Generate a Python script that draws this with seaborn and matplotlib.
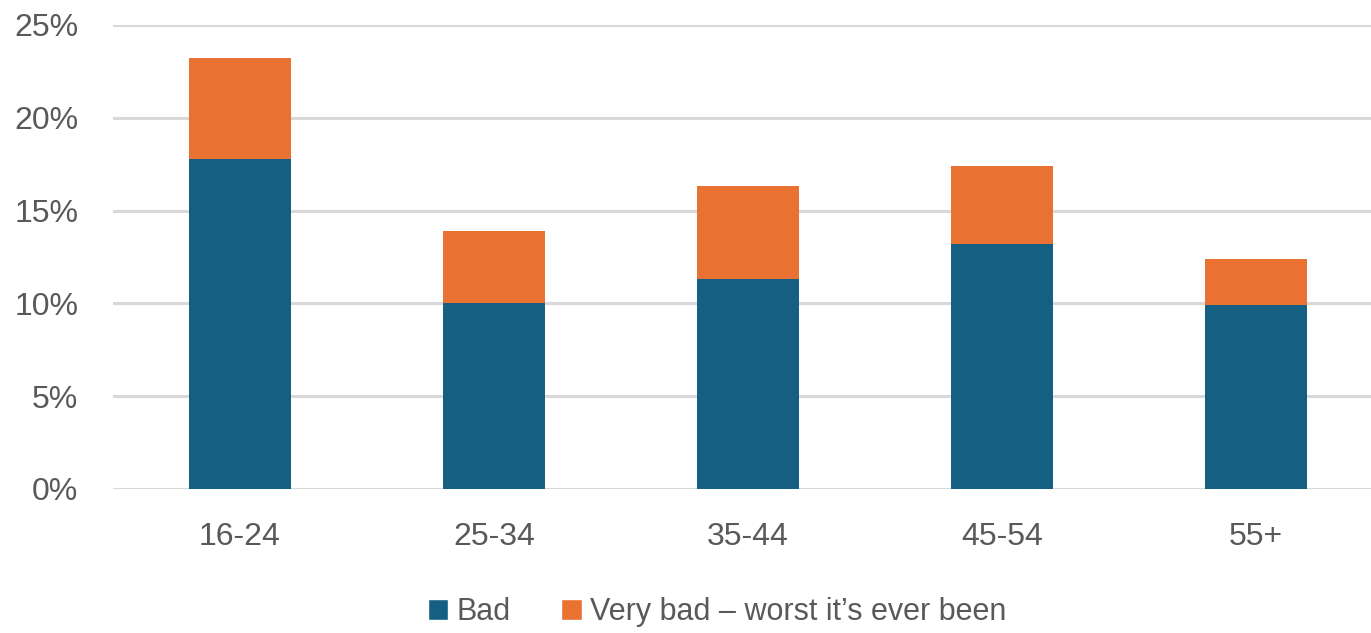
import matplotlib
matplotlib.use("Agg")
import matplotlib.pyplot as plt
import seaborn as sns
import pandas as pd
from matplotlib.patches import Patch
from matplotlib import font_manager as fm

categories = ["16-24", "25-34", "35-44", "45-54", "55+"]
bad = [17.8, 10.0, 11.3, 13.2, 9.9]
very_bad = [5.4, 3.9, 5.0, 4.2, 2.5]
series_names = ["Bad", "Very bad \u2013 worst it\u2019s ever been"]
yticks = [0, 5, 10, 15, 20, 25]

BLUE = "#156082"
ORANGE = "#E97132"
GRAY = "#595959"

sns.set_theme(style="white")
plt.rcParams["font.family"] = ["Liberation Sans", "DejaVu Sans"]

df = pd.DataFrame({"cat": categories, "bad": bad,
                   "total": [b + v for b, v in zip(bad, very_bad)]})

fig = plt.figure(figsize=(13.71, 6.33), dpi=100)
ax = fig.add_axes([113/1371, 144/633, 1270/1371, 464/633])

sns.barplot(data=df, x="cat", y="total", color=ORANGE, width=0.4,
            saturation=1, ax=ax, zorder=3, linewidth=0, edgecolor="none")
sns.barplot(data=df, x="cat", y="bad", color=BLUE, width=0.4,
            saturation=1, ax=ax, zorder=4, linewidth=0, edgecolor="none")

ax.set_ylim(0, 25)
ax.set_xlim(-0.5, 4.5)
ax.set_yticks(yticks)
ax.set_yticklabels([f"{t}%" for t in yticks])
ax.yaxis.grid(True, color="#D9D9D9", linewidth=2.2, zorder=0)
ax.set_axisbelow(True)
for s in ax.spines.values():
    s.set_visible(False)
ax.axhline(0, color="#D9D9D9", linewidth=2.2, zorder=2)
ax.tick_params(axis="both", length=0, labelsize=23, colors=GRAY)
ax.tick_params(axis="y", pad=25)
ax.tick_params(axis="x", pad=24)
ax.set_xlabel("")
ax.set_ylabel("")

avail = {f.name for f in fm.fontManager.ttflist}
lfam = ["Liberation Sans", "DejaVu Sans"]
for cand in ["Liberation Sans Narrow", "DejaVu Sans Condensed"]:
    if cand in avail:
        lfam = [cand, "DejaVu Sans"]
        break
handles = [Patch(facecolor=BLUE), Patch(facecolor=ORANGE)]
fig.legend(handles, series_names, loc="center", bbox_to_anchor=(717/1371, 1 - 612/633),
           ncol=2, frameon=False, prop={"family": lfam, "size": 22},
           labelcolor=GRAY, handlelength=0.68, handleheight=0.68,
           handletextpad=0.27, columnspacing=1.65)

fig.savefig("out.png", dpi=100)
